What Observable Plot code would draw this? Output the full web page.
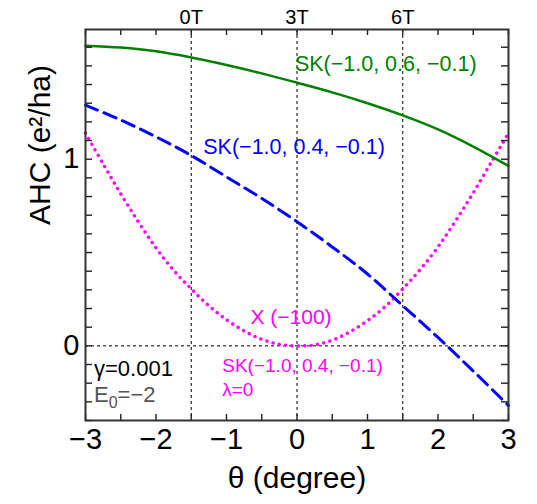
<!DOCTYPE html>
<html><head><meta charset="utf-8">
<script src="https://cdn.jsdelivr.net/npm/d3@7"></script>
<script src="https://cdn.jsdelivr.net/npm/@observablehq/plot@0.6"></script>
<style>body{margin:0;background:#fff}</style>
</head><body><div id="chart"></div>
<script>
// ---- data ----
const thetaCoarse = [-3, -2.5, -2, -1.5, -1, -0.5, 0, 0.5, 1, 1.5, 2, 2.5, 3];
const greenAHC   = [1.608, 1.598, 1.578, 1.545, 1.505, 1.46, 1.41, 1.358, 1.30, 1.235, 1.16, 1.068, 0.964];
const blueAHC    = [1.29, 1.21, 1.12, 1.02, 0.905, 0.79, 0.665, 0.53, 0.385, 0.215, 0.045, -0.135, -0.32];
const thetaFine  = [-3, -2.75, -2.5, -2.25, -2, -1.75, -1.5, -1.25, -1, -0.75, -0.5, -0.25, 0, 0.25, 0.5, 0.75, 1, 1.25, 1.5, 1.75, 2, 2.25, 2.5, 2.75, 3];
const magentaAHC = [1.14, 0.975, 0.815, 0.665, 0.525, 0.405, 0.305, 0.215, 0.14, 0.08, 0.035, 0.008, 0.0, 0.005, 0.03, 0.075, 0.135, 0.21, 0.305, 0.41, 0.53, 0.67, 0.82, 0.98, 1.14];

const xMajorTicks = [-3, -2, -1, 0, 1, 2, 3];
const xMinorTicks = [-3, -2.5, -2, -1.5, -1, -0.5, 0, 0.5, 1, 1.5, 2, 2.5, 3];
const yMajorTicks = [0, 1];
const yMinorTicks = [-0.4, -0.3, -0.2, -0.1, 0, 0.1, 0.2, 0.3, 0.4, 0.5, 0.6, 0.7, 0.8, 0.9, 1.0, 1.1, 1.2, 1.3, 1.4, 1.5, 1.6];
const topTicks  = [-1.5, 0, 1.5];
const topLabels = ["0T", "3T", "6T"];
const refX = [-1.5, 0, 1.5];
const refY = [0];

const greenLabel = "SK(\u22121.0, 0.6, \u22120.1)";
const blueLabel = "SK(\u22121.0, 0.4, \u22120.1)";
const magentaLabel1 = "X (\u2212100)";
const magentaLabel2 = "SK(\u22121.0, 0.4, \u22120.1)";
const magentaLabel3 = "\u03bb=0";
const gammaLabel = "\u03b3=0.001";
const e0Label = "E0=\u22122";
const xTitle = "\u03b8 (degree)";
const yTitle = "AHC (e\u00b2/ha)";

const green = thetaCoarse.map((t, i) => ({theta: t, ahc: greenAHC[i]}));
const blue = thetaCoarse.map((t, i) => ({theta: t, ahc: blueAHC[i]}));
const magenta = thetaFine.map((t, i) => ({theta: t, ahc: magentaAHC[i]}));

const FONT = "Liberation Sans, Arial, Helvetica, sans-serif";
const W = 537, H = 504, ML = 85, MR = 29, MT = 29, MB = 84;
const FW = W - ML - MR, FH = H - MT - MB;
const TX = 6, TY = 7; // inward tick lengths

const chart = Plot.plot({
  width: W,
  height: H,
  marginLeft: ML,
  marginRight: MR,
  marginTop: MT,
  marginBottom: MB,
  style: {fontFamily: FONT, background: "#fff", color: "#000"},
  x: {domain: [-3, 3], label: null},
  y: {domain: [-0.4, 1.695], label: null},
  marks: [
    Plot.ruleX(refX, {stroke: "#000", strokeWidth: 1, strokeDasharray: "3,3"}),
    Plot.ruleY(refY, {stroke: "#000", strokeWidth: 1, strokeDasharray: "3,3"}),
    Plot.line(magenta, {x: "theta", y: "ahc", curve: "catmull-rom", stroke: "#ff00ff", strokeWidth: 3.4, strokeDasharray: "0.1,6.3", strokeLinecap: "round"}),
    Plot.line(blue, {x: "theta", y: "ahc", curve: "catmull-rom", stroke: "#0000ff", strokeWidth: 3, strokeDasharray: "13,7"}),
    Plot.line(green, {x: "theta", y: "ahc", curve: "catmull-rom", stroke: "#008000", strokeWidth: 2.5}),
    // inward ticks on all four sides
    Plot.tickX(xMinorTicks, {x: d => d, insetTop: FH - TX, stroke: "#222", strokeWidth: 1.4}),
    Plot.tickX(xMinorTicks, {x: d => d, insetBottom: FH - TX, stroke: "#222", strokeWidth: 1.4}),
    Plot.tickY(yMinorTicks, {y: d => d, insetRight: FW - TY, stroke: "#222", strokeWidth: 1.4}),
    Plot.tickY(yMinorTicks, {y: d => d, insetLeft: FW - TY, stroke: "#222", strokeWidth: 1.4}),
    // tick labels
    Plot.axisX({anchor: "bottom", ticks: xMajorTicks, tickSize: 0, tickPadding: 8, fontSize: 29, label: null, tickFormat: "d"}),
    Plot.axisX({anchor: "top", ticks: topTicks, tickSize: 0, tickPadding: 6, fontSize: 20, label: null, tickFormat: (d, i) => topLabels[i]}),
    Plot.axisY({anchor: "left", ticks: yMajorTicks, tickSize: 0, tickPadding: 6, fontSize: 29, label: null, tickFormat: "d"}),
    Plot.frame({stroke: "#333", strokeWidth: 2}),
    // titles
    Plot.text([xTitle], {frameAnchor: "bottom", dy: 67, text: d => d, fontSize: 30, fill: "#000"}),
    Plot.text([yTitle], {frameAnchor: "left", dx: -45, rotate: -90, text: d => d, fontSize: 30, fill: "#000"}),
    // annotations
    Plot.text([greenLabel], {x: -0.03, y: 1.51, text: d => d, textAnchor: "start", fontSize: 21.5, fill: "#008000"}),
    Plot.text([blueLabel], {x: -1.33, y: 1.066, text: d => d, textAnchor: "start", fontSize: 21.5, fill: "#0000ff"}),
    Plot.text([magentaLabel1], {x: -0.66, y: 0.155, text: d => d, textAnchor: "start", fontSize: 21, fill: "#ff00ff"}),
    Plot.text([magentaLabel2], {x: -1.06, y: -0.105, text: d => d, textAnchor: "start", fontSize: 19, fill: "#ff00ff"}),
    Plot.text([magentaLabel3], {x: -1.06, y: -0.236, text: d => d, textAnchor: "start", fontSize: 19, fill: "#ff00ff"}),
    Plot.text([gammaLabel], {x: -2.88, y: -0.122, text: d => d, textAnchor: "start", fontSize: 22, fill: "#000"}),
    Plot.text([e0Label], {x: -2.88, y: -0.262, text: d => d, textAnchor: "start", fontSize: 22, fill: "#555"})
  ]
});

// subscript 0 in E0
chart.querySelectorAll("text").forEach(t => {
  if (t.textContent === e0Label) {
    t.textContent = "";
    const ns = "http://www.w3.org/2000/svg";
    const a = document.createElementNS(ns, "tspan"); a.textContent = "E";
    const b = document.createElementNS(ns, "tspan"); b.textContent = "0"; b.setAttribute("dy", "6"); b.setAttribute("font-size", "16");
    const c = document.createElementNS(ns, "tspan"); c.textContent = "=\u22122"; c.setAttribute("dy", "-6");
    t.append(a, b, c);
  }
});
document.getElementById("chart").appendChild(chart);
</script>
</body></html>
